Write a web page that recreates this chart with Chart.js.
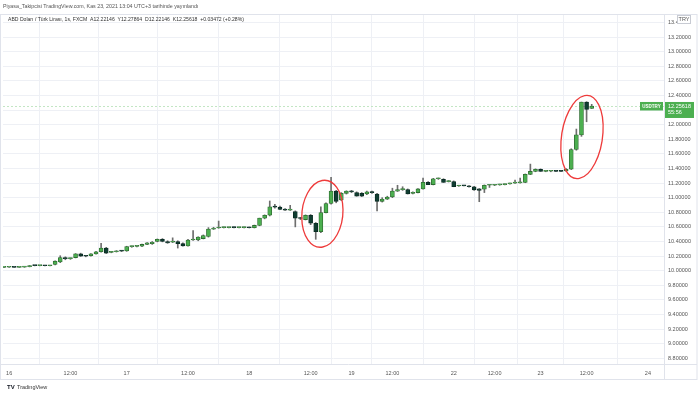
<!DOCTYPE html>
<html>
<head>
<meta charset="utf-8">
<script src="https://cdn.jsdelivr.net/npm/chart.js@4"></script>
<style>
    html, body { margin: 0; padding: 0; background: #fff; }
    #wrap { width: 700px; height: 394px; position: relative; }
</style>
</head>
<body>
<div id="wrap"><canvas id="usdtry"></canvas></div>
<script>
// hourly USD/TRY candles, 16-23 Nov 2021 (FXCM)
const opens = [
    10.045, 10.047, 10.047, 10.046, 10.048, 10.055, 10.070, 10.069, 10.070, 10.068,
    10.085, 10.120, 10.180, 10.165, 10.180, 10.230, 10.200, 10.205, 10.230, 10.260,
    10.310, 10.250, 10.260, 10.270, 10.270, 10.330, 10.333, 10.335, 10.360, 10.370,
    10.400, 10.430, 10.400, 10.390, 10.400, 10.370, 10.340, 10.420, 10.420, 10.440,
    10.470, 10.570, 10.585, 10.590, 10.590, 10.592, 10.590, 10.590, 10.592, 10.590,
    10.620, 10.720, 10.760, 10.875, 10.870, 10.840, 10.830, 10.810, 10.720, 10.700,
    10.760, 10.650, 10.535, 10.795, 10.920, 11.090, 10.970, 11.060, 11.090, 11.070,
    11.060, 11.050, 11.080, 11.050, 10.950, 10.980, 11.010, 11.090, 11.110, 11.110,
    11.060, 11.070, 11.120, 11.210, 11.180, 11.260, 11.250, 11.220, 11.220, 11.160,
    11.165, 11.160, 11.150, 11.120, 11.115, 11.170, 11.170, 11.175, 11.180, 11.190,
    11.200, 11.202, 11.210, 11.320, 11.360, 11.390, 11.360, 11.362, 11.365, 11.370,
    11.365, 11.390, 11.660, 11.860, 12.310, 12.22146
];
const highs = [
    10.050, 10.050, 10.050, 10.050, 10.058, 10.072, 10.074, 10.073, 10.074, 10.075,
    10.135, 10.205, 10.190, 10.175, 10.235, 10.240, 10.210, 10.235, 10.265, 10.375,
    10.320, 10.265, 10.275, 10.278, 10.335, 10.340, 10.345, 10.365, 10.385, 10.400,
    10.435, 10.440, 10.410, 10.450, 10.410, 10.380, 10.430, 10.550, 10.465, 10.490,
    10.590, 10.595, 10.680, 10.600, 10.598, 10.600, 10.598, 10.600, 10.598, 10.625,
    10.720, 10.765, 10.955, 10.910, 10.885, 10.850, 10.895, 10.820, 10.730, 10.765,
    10.770, 10.660, 10.875, 10.930, 11.280, 11.100, 11.070, 11.095, 11.100, 11.080,
    11.070, 11.090, 11.090, 11.060, 11.000, 11.020, 11.130, 11.170, 11.150, 11.120,
    11.080, 11.125, 11.270, 11.220, 11.265, 11.270, 11.260, 11.235, 11.230, 11.170,
    11.170, 11.165, 11.155, 11.125, 11.175, 11.180, 11.180, 11.185, 11.190, 11.200,
    11.240, 11.270, 11.325, 11.460, 11.395, 11.395, 11.370, 11.370, 11.370, 11.375,
    11.400, 11.670, 11.940, 12.310, 12.315, 12.27864
];
const lows = [
    10.040, 10.045, 10.044, 10.044, 10.046, 10.052, 10.066, 10.066, 10.067, 10.065,
    10.080, 10.110, 10.150, 10.155, 10.175, 10.195, 10.190, 10.200, 10.225, 10.255,
    10.235, 10.245, 10.255, 10.262, 10.265, 10.320, 10.325, 10.330, 10.355, 10.360,
    10.395, 10.395, 10.375, 10.385, 10.310, 10.335, 10.335, 10.415, 10.410, 10.435,
    10.460, 10.565, 10.580, 10.585, 10.585, 10.585, 10.585, 10.585, 10.585, 10.585,
    10.615, 10.710, 10.750, 10.855, 10.835, 10.825, 10.825, 10.600, 10.700, 10.695,
    10.630, 10.430, 10.520, 10.790, 10.910, 10.930, 10.960, 11.050, 11.070, 11.020,
    11.015, 11.040, 11.060, 10.820, 10.940, 10.975, 11.000, 11.085, 11.100, 11.050,
    11.050, 11.065, 11.115, 11.180, 11.175, 11.250, 11.210, 11.215, 11.150, 11.155,
    11.160, 11.145, 11.100, 10.945, 11.070, 11.140, 11.165, 11.170, 11.175, 11.185,
    11.195, 11.200, 11.205, 11.315, 11.355, 11.360, 11.355, 11.355, 11.355, 11.355,
    11.360, 11.385, 11.650, 11.840, 12.040, 12.22146
];
const closes = [
    10.047, 10.047, 10.046, 10.048, 10.055, 10.070, 10.069, 10.070, 10.068, 10.072,
    10.130, 10.180, 10.165, 10.168, 10.230, 10.200, 10.198, 10.230, 10.260, 10.310,
    10.240, 10.260, 10.270, 10.268, 10.330, 10.333, 10.335, 10.360, 10.380, 10.390,
    10.430, 10.400, 10.380, 10.405, 10.370, 10.340, 10.420, 10.430, 10.460, 10.480,
    10.570, 10.585, 10.590, 10.592, 10.590, 10.590, 10.592, 10.590, 10.588, 10.620,
    10.720, 10.760, 10.875, 10.870, 10.840, 10.830, 10.835, 10.720, 10.715, 10.760,
    10.650, 10.535, 10.795, 10.920, 11.090, 10.950, 11.060, 11.090, 11.080, 11.020,
    11.020, 11.080, 11.070, 10.950, 10.980, 11.010, 11.090, 11.110, 11.110, 11.050,
    11.070, 11.120, 11.210, 11.180, 11.260, 11.260, 11.210, 11.220, 11.150, 11.165,
    11.162, 11.150, 11.105, 11.100, 11.170, 11.170, 11.172, 11.180, 11.182, 11.200,
    11.202, 11.205, 11.320, 11.360, 11.390, 11.360, 11.362, 11.365, 11.360, 11.360,
    11.390, 11.660, 11.860, 12.310, 12.210, 12.25618
];

// time axis: candle index -> label
const tickIndex = [1, 13, 24, 36, 48, 60, 68, 76, 88, 96, 105, 114, 126];
const tickLabels = ['16', '12:00', '17', '12:00', '18', '12:00', '19', '12:00', '22', '12:00', '23', '12:00', '24'];

const lastPrice = 12.25618;
const countdown = '55:56';

// hand drawn red rings: [candle index, price, radius in candles, radius in price, tilt]
const rings = [
    [62.3, 10.78, 4.0, 0.46, 0.10],
    [113.1, 11.831, 4.0, 0.575, 0.15]
];

const headerText = 'Piyasa_Takipcisi TradingView.com, Kas 23, 2021 13:04 UTC+3 tarihinde yayınlandı';
const legendText = 'ABD Doları / Türk Lirası, 1s, FXCM  A12.22146  Y12.27864  D12.22146  K12.25618  +0.03472 (+0.28%)';

(function () {
    const upFill = '#4caf50';
    const upLine = '#2e6b31';
    const downFill = '#0f3d31';
    const downLine = '#0a2a22';
    const wickColor = '#6e6e6e';
    const gridColor = '#eef0f5';
    const textColor = '#555';
    const font = { family: 'Liberation Sans', size: 5.5 };

    const isUp = i => closes[i] >= opens[i];

    const wicks = opens.map((o, i) => ({ x: i, y: [lows[i], highs[i]] }));
    const bodies = opens.map((o, i) => ({ x: i, y: [opens[i], closes[i]] }));

    const overlay = {
        id: 'overlay',
        beforeDatasetsDraw(chart) {
            const { ctx, chartArea, scales } = chart;
            // last price dotted line
            const py = Math.round(scales.y.getPixelForValue(lastPrice)) + 0.5;
            ctx.save();
            ctx.strokeStyle = '#c3e6c4';
            ctx.lineWidth = 1;
            ctx.setLineDash([2, 2]);
            ctx.beginPath();
            ctx.moveTo(chartArea.left, py);
            ctx.lineTo(chartArea.right, py);
            ctx.stroke();
            ctx.restore();
        },
        afterDraw(chart) {
            const { ctx, chartArea, scales } = chart;
            const xs = scales.x, ys = scales.y;
            const W = chart.width;
            ctx.save();

            // frame
            ctx.strokeStyle = '#e0e3eb';
            ctx.lineWidth = 1;
            ctx.strokeRect(0.5, 14.5, W - 3.5, chartArea.bottom + 15 - 14);
            ctx.beginPath();
            ctx.moveTo(0, chartArea.bottom + 0.5);
            ctx.lineTo(W - 3, chartArea.bottom + 0.5);
            ctx.moveTo(chartArea.right + 0.5, 14);
            ctx.lineTo(chartArea.right + 0.5, chartArea.bottom + 15);
            ctx.stroke();

            // header and legend
            ctx.fillStyle = '#555';
            ctx.font = '5.3px "Liberation Sans"';
            ctx.textBaseline = 'middle';
            ctx.textAlign = 'left';
            ctx.fillText(headerText, 3, 7);
            ctx.fillStyle = '#333';
            ctx.font = '5.1px "Liberation Sans"';
            ctx.fillText(legendText, 8, 19.5);

            // TRY currency box
            ctx.font = '5.5px "Liberation Sans"';
            ctx.fillStyle = '#fff';
            ctx.fillRect(chartArea.right + 13, 15, 14, 9);
            ctx.strokeStyle = '#c8cbd3';
            ctx.strokeRect(chartArea.right + 13.5, 15.5, 13, 8);
            ctx.fillStyle = '#555';
            ctx.textAlign = 'center';
            ctx.fillText('TRY', chartArea.right + 20, 19.5);

            // red rings
            ctx.strokeStyle = '#ee3b3b';
            ctx.lineWidth = 1.3;
            rings.forEach(r => {
                const cx = xs.getPixelForValue(r[0]);
                const cy = ys.getPixelForValue(r[1]);
                const rx = xs.getPixelForValue(r[0] + r[2]) - cx;
                const ry = cy - ys.getPixelForValue(r[1] + r[3]);
                ctx.beginPath();
                ctx.ellipse(cx, cy, rx, ry, r[4], -1.75, Math.PI * 2 - 1.65);
                ctx.stroke();
            });

            // last price labels
            const py = ys.getPixelForValue(lastPrice);
            ctx.fillStyle = upFill;
            ctx.fillRect(chartArea.right - 24, py - 4, 23, 8.5);
            ctx.fillRect(chartArea.right + 1, py - 4, 29, 16);
            ctx.fillStyle = '#fff';
            ctx.font = 'bold 4.5px "Liberation Sans"';
            ctx.textAlign = 'center';
            ctx.fillText('USDTRY', chartArea.right - 12.5, py + 0.5);
            ctx.font = '5.5px "Liberation Sans"';
            ctx.textAlign = 'left';
            ctx.fillText(lastPrice.toFixed(5), chartArea.right + 4, py + 0.5);
            ctx.fillText(countdown, chartArea.right + 4, py + 7);

            // TradingView mark
            ctx.fillStyle = '#131722';
            ctx.font = 'bold 6px "Liberation Sans"';
            ctx.fillText('TV', 7, 387);
            ctx.font = '5.5px "Liberation Sans"';
            ctx.fillStyle = '#333';
            ctx.fillText('TradingView', 17, 387);
            ctx.restore();
        }
    };

    const config = {
        type: 'bar',
        data: {
            datasets: [
                {
                    data: bodies,
                    backgroundColor: bodies.map((d, i) => isUp(i) ? upFill : downFill),
                    borderColor: bodies.map((d, i) => isUp(i) ? upLine : downLine),
                    borderWidth: 0.8,
                    borderSkipped: false,
                    barThickness: 4,
                    minBarLength: 1,
                    grouped: false,
                    order: 0
                },
                {
                    data: wicks,
                    backgroundColor: wickColor,
                    barThickness: 1,
                    grouped: false,
                    order: 1
                }
            ]
        },
        options: {
            responsive: false,
            animation: false,
            devicePixelRatio: 1,
            layout: { padding: { left: 3, right: 3, top: 14, bottom: 15 } },
            plugins: {
                legend: { display: false },
                tooltip: { enabled: false }
            },
            scales: {
                x: {
                    type: 'linear',
                    min: -0.2,
                    max: 129.15,
                    offset: false,
                    afterBuildTicks: s => { s.ticks = tickIndex.map(v => ({ value: v })); },
                    afterFit: s => { s.height = 15; },
                    grid: { color: gridColor, drawTicks: false },
                    border: { display: false },
                    ticks: {
                        color: textColor,
                        font: font,
                        padding: 6,
                        autoSkip: false,
                        maxRotation: 0,
                        callback: (v, i) => tickLabels[i]
                    }
                },
                y: {
                    position: 'right',
                    min: 8.722,
                    max: 13.516,
                    afterFit: s => { s.width = 33; },
                    grid: { color: gridColor, drawTicks: false },
                    border: { display: false },
                    ticks: {
                        stepSize: 0.2,
                        includeBounds: false,
                        color: textColor,
                        font: font,
                        padding: 4,
                        callback: v => v.toFixed(5)
                    }
                }
            }
        },
        plugins: [overlay]
    };

    const canvas = document.getElementById('usdtry');
    canvas.width = 700;
    canvas.height = 394;
    new Chart(canvas, config);
})();
</script>
</body>
</html>
